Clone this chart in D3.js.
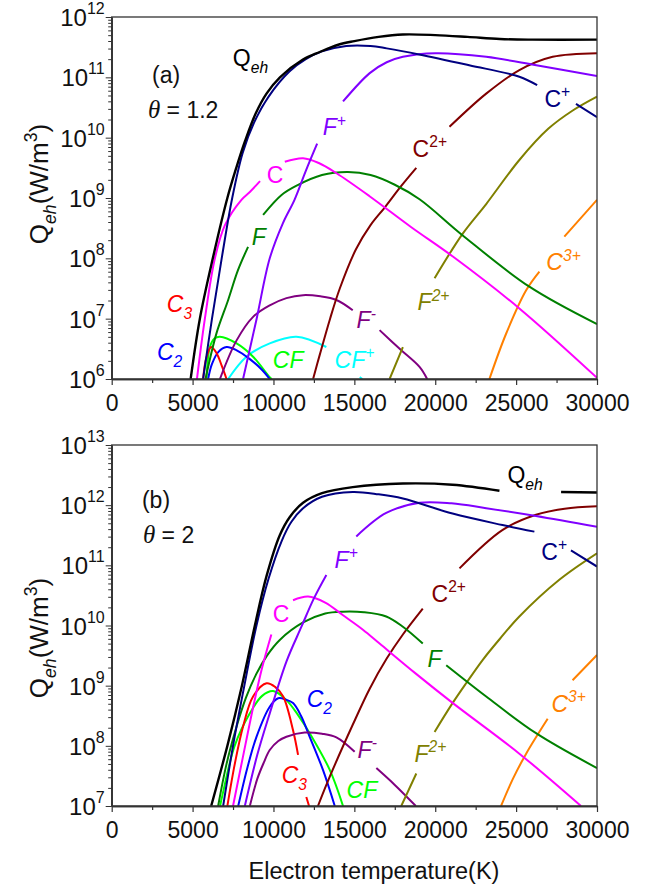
<!DOCTYPE html>
<html>
<head>
<meta charset="UTF-8">
<title>Qeh vs electron temperature</title>
<script src="https://d3js.org/d3.v7.min.js"></script>
<style>
  body { margin: 0; background: #fff; }
  svg { display: block; font-family: "Liberation Sans", Arial, sans-serif; }
</style>
</head>
<body>
<svg id="chart" width="646" height="890"></svg>
<script>
// each point: [electron temperature (K), log10 Qeh (W/m^3)]; null = gap where a label sits

// ---- panel (a), theta = 1.2 ----
const qehA = [[4880,6],[5450,7],[6250,8],[7150,9],[7700,9.5],[8250,9.95],[8900,10.4],[9570,10.73],[10400,11.0],[11800,11.29],[12860,11.42],[14000,11.54],[15000,11.6],[16500,11.67],[18000,11.71],[20000,11.70],[22000,11.67],[24000,11.635],[26000,11.625],[30000,11.625]];
const cPlusA = [[5650,6],[6200,7],[6800,8],[7450,9],[8100,9.75],[8800,10.25],[9700,10.68],[11000,11.1],[12000,11.3],[13000,11.43],[14500,11.52],[16000,11.52],[17000,11.48],[19000,11.38],[22100,11.2],[25200,11.01],[26300,10.87],null,[28700,10.56],[30000,10.34]];
const fPlusA = [[8120,6],[8960,7],[9770,8],[10580,8.58],[11300,8.97],[12000,9.45],[12700,9.9],null,[14300,10.6],[15950,11.07],[17000,11.25],[18000,11.34],[20000,11.40],[23150,11.34],[26250,11.2],[30000,11.02]];
const cA = [[5270,6],[5760,7],[6380,8],[7000,8.55],[8020,8.97],[8540,9.1],[9170,9.28],null,[10700,9.6],[11830,9.66],[12800,9.58],[13900,9.41],[15940,9.03],[18500,8.52],[21090,8.03],[25200,7.17],[30000,6.02]];
const fA = [[5800,6],[5960,6.2],[6480,6.76],[7200,7.31],[7800,7.8],[8430,8.19],null,[9360,8.72],[10500,9.05],[11400,9.2],[13000,9.38],[14600,9.43],[16000,9.38],[17500,9.22],[19030,8.98],[21700,8.38],[25820,7.53],[30000,6.91]];
const c2PlusA = [[12450,6],[12860,6.4],[13500,7.0],[14100,7.5],[15100,8.15],[16000,8.55],[16900,8.85],[17900,9.2],[18830,9.5],null,[20880,10.18],[23150,10.73],[25200,11.12],[27260,11.34],[30000,11.40]];
const f2PlusA = [[17180,6],[18000,6.53],null,[19960,7.67],[21700,8.41],[23150,8.9],[25200,9.63],[27000,10.15],[28500,10.45],[30000,10.68]];
const c3PlusA = [[23350,6],[24380,6.75],[25620,7.47],[26440,7.78],null,[27980,8.36],[30000,8.97]];
const fMinusA = [[6690,6],[7720,6.64],[8740,7.03],[9770,7.22],[10800,7.34],[11830,7.39],[12900,7.37],[13890,7.31],[14900,7.14],null,[16560,6.81],[17800,6.5],[19030,6.2],[19500,6]];
const cfPlusA = [[7200,6],[8330,6.37],[9770,6.59],[11420,6.70],[13270,6.53],null,[15330,6.03],[15500,6]];
const cfA = [[5860,6],[6070,6.53],[6350,6.67],[6690,6.70],[7720,6.59],[8740,6.37],[9770,6.03],[9900,6]];
const c2A = [[5960,6],[6200,6.25],[6600,6.45],[7100,6.53],[7700,6.48],[8540,6.33],[9300,6.15],[9770,6]];
const c3A = [[5650,6],[5850,6.35],[6150,6.53],[6500,6.42],[6800,6.22],[7100,6]];

// ---- panel (b), theta = 2 ----
const qehB = [[6150,7],[7150,8],[8050,9],[8850,10],[9570,10.82],[10390,11.5],[11000,11.8],[11830,12.04],[13000,12.2],[14900,12.3],[18000,12.36],[21070,12.34],[23970,12.24],null,[27780,12.22],[30000,12.21]];
const cPlusB = [[6890,7],[7500,8.0],[8200,9.0],[8950,10.0],[9700,10.78],[10500,11.4],[11100,11.72],[11830,11.95],[13000,12.14],[14900,12.22],[16500,12.18],[18000,12.11],[21070,11.86],[24160,11.67],[26130,11.56],null,[28390,11.25],[30000,10.98]];
const fPlusB = [[8230,7],[9000,7.85],[9770,8.54],[10800,9.4],[11730,9.98],[12500,10.45],[13270,10.84],null,[15120,11.48],[16970,11.87],[19030,12.04],[21000,12.03],[23150,11.95],[26230,11.82],[30000,11.64]];
const cB = [[7500,7],[8100,7.8],[8750,8.65],[9300,9.3],[9870,9.85],null,[11210,10.42],[12140,10.48],[13200,10.38],[14300,10.17],[15530,9.93],[16560,9.70],[18800,9.2],[21090,8.71],[25200,7.87],[29010,7.0]];
const fB = [[6580,7],[7100,7.7],[7720,8.32],[8300,8.8],[8950,9.2],[9600,9.5],[10390,9.76],[11830,10.05],[13200,10.2],[14300,10.23],[15600,10.22],[16970,10.15],[18000,9.98],[19230,9.7],null,[20680,9.34],[23150,8.82],[26230,8.21],[30000,7.63]];
const c2PlusB = [[12750,7],[13500,7.5],[14900,8.35],[15950,8.95],[17000,9.45],[18000,9.85],[19230,10.28],null,[21500,10.95],[24170,11.59],[26230,11.84],[28000,11.94],[30000,11.98]];
const f2PlusB = [[17900,7],[18830,7.54],null,[19960,8.23],[21000,8.68],[21910,9.04],[22940,9.43],[24000,9.78],[25200,10.15],[27670,10.76],[30000,11.2]];
const c3PlusB = [[24070,7],[24800,7.45],[25620,7.87],[26950,8.45],null,[28490,9.09],[30000,9.51]];
const fMinusB = [[8540,7],[9000,7.45],[9400,7.72],[9770,7.93],[10300,8.08],[10800,8.15],[11930,8.22],[13000,8.2],[13890,8.14],[15020,7.9],null,[16360,7.63],[17500,7.35],[18800,7.0]];
const c2B = [[7820,7],[8400,7.65],[8950,8.15],[9770,8.65],[10290,8.79],[10750,8.77],[11210,8.71],[11700,8.5],[12240,8.15],[13060,7.6],[13790,7.0]];
const cfB = [[6700,7],[6870,7.21],[7600,8.0],[8540,8.54],[9300,8.83],[9980,8.91],[10800,8.76],[11500,8.52],[12240,8.21],[13480,7.6],[14300,7.0]];
const c3B = [[7150,7],[7610,7.7],[8120,8.32],[8740,8.82],[9570,9.04],[10100,8.98],[10600,8.82],[11210,8.26],[11520,7.85],null,[12030,7.15],[12200,7.0]];

// tick values
const xTicks = [0, 5000, 10000, 15000, 20000, 25000, 30000];
const xMinor = [2500, 7500, 12500, 17500, 22500, 27500];

const colors = {
  qeh: "#000000", cPlus: "#000080", fPlus: "#8000ff", c2Plus: "#800000",
  f2Plus: "#808000", c3Plus: "#ff8000", c: "#ff00ff", f: "#008000",
  fMinus: "#800080", cf: "#00ff00", cfPlus: "#00ffff", c2: "#0000ff", c3: "#ff0000"
};

const panels = [
  {
    top: 17, bottom: 379, expRange: [6, 12], titleY: 184, tag: "(a)", theta: "1.2",
    tagPos: [2490, 10.91], thetaPos: [2240, 10.33],
    series: [
      ["cfPlus", cfPlusA], ["cf", cfA], ["c2", c2A], ["c3", c3A], ["fMinus", fMinusA],
      ["c3Plus", c3PlusA], ["f2Plus", f2PlusA], ["c2Plus", c2PlusA], ["f", fA], ["c", cA],
      ["fPlus", fPlusA], ["cPlus", cPlusA], ["qeh", qehA]
    ],
    labels: [
      ["qeh", [["Q"], ["eh", "sub", true]], 7490, 11.19, false],
      ["fPlus", [["F"], ["+", "sup"]], 13040, 10.04, true],
      ["c", [["C"]], 9590, 9.25, false],
      ["f", [["F"]], 8660, 8.22, true],
      ["c3", [["C"], ["3", "sub"]], 3410, 7.11, true],
      ["c2", [["C"], ["2", "sub"]], 2800, 6.31, true],
      ["cf", [["CF"]], 9960, 6.18, true],
      ["cfPlus", [["CF"], ["+", "sup"]], 13780, 6.18, true],
      ["fMinus", [["F"], ["-", "sup"]], 15140, 6.84, true],
      ["f2Plus", [["F"], ["2+", "sup"]], 18910, 7.14, true],
      ["c2Plus", [["C"], ["2+", "sup"]], 18600, 9.68, false],
      ["cPlus", [["C"], ["+", "sup"]], 26750, 10.51, false],
      ["c3Plus", [["C"], ["3+", "sup"]], 26870, 7.80, true]
    ]
  },
  {
    top: 445, bottom: 806, expRange: [7, 13], titleY: 638, tag: "(b)", theta: "2",
    tagPos: [1870, 11.95], thetaPos: [1930, 11.37],
    series: [
      ["cf", cfB], ["c2", c2B], ["c3", c3B], ["fMinus", fMinusB],
      ["c3Plus", c3PlusB], ["f2Plus", f2PlusB], ["c2Plus", c2PlusB], ["f", fB], ["c", cB],
      ["fPlus", fPlusB], ["cPlus", cPlusB], ["qeh", qehB]
    ],
    labels: [
      ["qeh", [["Q"], ["eh", "sub", true]], 24460, 12.37, false],
      ["fPlus", [["F"], ["+", "sup"]], 13780, 10.96, true],
      ["cPlus", [["C"], ["+", "sup"]], 26560, 11.09, false],
      ["c2Plus", [["C"], ["2+", "sup"]], 19770, 10.39, false],
      ["c", [["C"]], 9960, 10.06, false],
      ["f", [["F"]], 19520, 9.31, true],
      ["c2", [["C"], ["2", "sub"]], 12050, 8.64, true],
      ["fMinus", [["F"], ["-", "sup"]], 15200, 7.80, true],
      ["c3", [["C"], ["3", "sub"]], 10510, 7.38, true],
      ["cf", [["CF"]], 14520, 7.13, true],
      ["f2Plus", [["F"], ["2+", "sup"]], 18720, 7.73, true],
      ["c3Plus", [["C"], ["3+", "sup"]], 27180, 8.56, true]
    ]
  }
];

const svg = d3.select("#chart");
const left = 111.7, right = 597;
const x = d3.scaleLinear().domain([0, 30000]).range([left, right]);

// text with sub/superscript parts: [text, "sub"|"sup"|undefined, italic]
function rich(sel, parts, size) {
  let cur = 0;
  parts.forEach(([t, kind, it]) => {
    const off = kind === "sub" ? size * 0.3 : kind === "sup" ? -size * 0.42 : 0;
    const ts = sel.append("tspan").attr("dy", off - cur).text(t);
    cur = off;
    if (kind) ts.attr("font-size", size * 0.68);
    if (it) ts.attr("font-style", "italic");
  });
}

panels.forEach((p, i) => {
  const y = d3.scaleLog()
    .domain([Math.pow(10, p.expRange[0]), Math.pow(10, p.expRange[1])])
    .range([p.bottom, p.top]);
  const g = svg.append("g");

  const clipId = "clip" + i;
  g.append("clipPath").attr("id", clipId).append("rect")
    .attr("x", left).attr("y", p.top)
    .attr("width", right - left).attr("height", p.bottom - p.top);

  // curves
  const line = d3.line()
    .defined(d => d !== null)
    .x(d => x(d[0]))
    .y(d => y(Math.pow(10, d[1])))
    .curve(d3.curveCatmullRom.alpha(0.5));

  const curves = g.append("g").attr("clip-path", `url(#${clipId})`);
  p.series.forEach(([key, data]) => {
    curves.append("path")
      .attr("d", line(data))
      .attr("fill", "none")
      .attr("stroke", colors[key])
      .attr("stroke-width", key === "qeh" ? 2.4 : 2)
      .attr("stroke-linejoin", "round");
  });

  // frame
  g.append("rect")
    .attr("x", left).attr("y", p.top)
    .attr("width", right - left).attr("height", p.bottom - p.top)
    .attr("fill", "none").attr("stroke", "#333").attr("stroke-width", 1.3);

  // x axis
  const xAxis = g.append("g").attr("transform", `translate(0,${p.bottom})`);
  xAxis.call(d3.axisBottom(x).tickValues(xTicks).tickSize(6).tickSizeOuter(0).tickFormat(d3.format("d")));
  xAxis.append("g").call(d3.axisBottom(x).tickValues(xMinor).tickSize(4).tickSizeOuter(0).tickFormat(""));
  xAxis.selectAll(".domain").attr("stroke", "#333").attr("stroke-width", 1.3);
  xAxis.selectAll(".tick line").attr("stroke", "#333").attr("stroke-width", 1.2);
  xAxis.selectAll(".tick text")
    .attr("font-size", 23).attr("font-family", "Liberation Sans, Arial, sans-serif")
    .attr("fill", "#111").attr("y", 10).attr("dy", "0.95em");

  // y axis: majors at decades, minors 2..9
  const exps = d3.range(p.expRange[0], p.expRange[1] + 1);
  const majors = exps.map(e => Math.pow(10, e));
  const minors = [];
  exps.slice(0, -1).forEach(e => d3.range(2, 10).forEach(k => minors.push(k * Math.pow(10, e))));
  const yAxis = g.append("g").attr("transform", `translate(${left},0)`);
  yAxis.call(d3.axisLeft(y).tickValues(majors).tickSize(6).tickSizeOuter(0).tickFormat(""));
  yAxis.append("g").call(d3.axisLeft(y).tickValues(minors).tickSize(3.5).tickSizeOuter(0).tickFormat(""));
  yAxis.selectAll(".domain").attr("stroke", "#333").attr("stroke-width", 1.3);
  yAxis.selectAll(".tick line").attr("stroke", "#333").attr("stroke-width", 1);

  exps.forEach(e => {
    const t = g.append("text")
      .attr("x", left - 7).attr("y", y(Math.pow(10, e)) + 9)
      .attr("text-anchor", "end").attr("font-size", 24).attr("fill", "#111");
    t.append("tspan").text("10");
    t.append("tspan").attr("dy", -12).attr("font-size", 16).text(e);
  });

  // y title
  const yt = g.append("text")
    .attr("transform", `translate(48,${p.titleY}) rotate(-90)`)
    .attr("text-anchor", "middle").attr("font-size", 26).attr("fill", "#111");
  rich(yt, [["Q"], ["eh", "sub", true], ["(W/m"], ["3", "sup"], [")"]], 26);

  // panel tag and theta
  g.append("text")
    .attr("x", x(p.tagPos[0])).attr("y", y(Math.pow(10, p.tagPos[1])))
    .attr("font-size", 23).attr("fill", "#111").text(p.tag);
  const th = g.append("text")
    .attr("x", x(p.thetaPos[0])).attr("y", y(Math.pow(10, p.thetaPos[1])))
    .attr("font-size", 23).attr("fill", "#111");
  th.append("tspan").attr("font-family", "Liberation Serif, Times New Roman, serif")
    .attr("font-style", "italic").attr("font-size", 25).text("θ");
  th.append("tspan").text(" = " + p.theta);

  // curve labels
  p.labels.forEach(([key, parts, tx, ty, italic]) => {
    const t = g.append("text")
      .attr("x", x(tx)).attr("y", y(Math.pow(10, ty)))
      .attr("font-size", 23).attr("fill", colors[key])
      .attr("font-style", italic ? "italic" : "normal");
    rich(t, parts, 23);
  });
});

// x title
svg.append("text")
  .attr("x", 374).attr("y", 879)
  .attr("text-anchor", "middle").attr("font-size", 23.5).attr("fill", "#111")
  .text("Electron temperature(K)");
</script>
</body>
</html>
